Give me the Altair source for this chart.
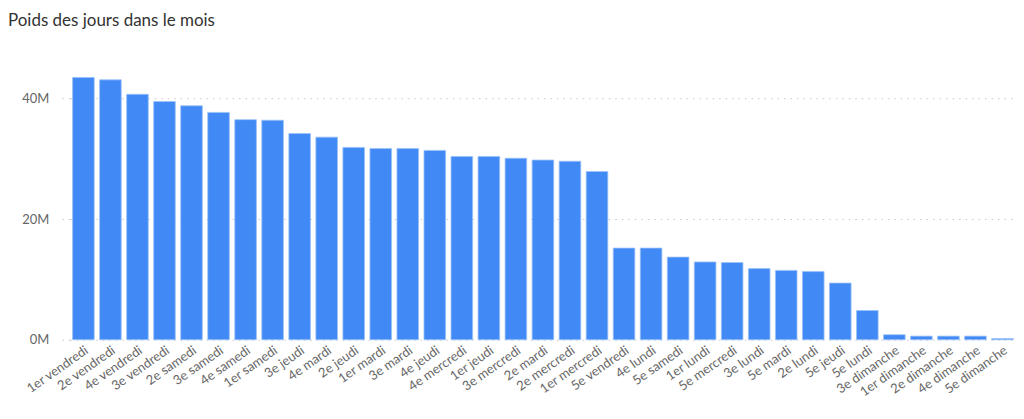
import altair as alt
import pandas as pd

jours = ["1er vendredi", "2e vendredi", "4e vendredi", "3e vendredi", "2e samedi",
         "3e samedi", "4e samedi", "1er samedi", "3e jeudi", "4e mardi",
         "2e jeudi", "1er mardi", "3e mardi", "4e jeudi", "4e mercredi",
         "1er jeudi", "3e mercredi", "2e mardi", "2e mercredi", "1er mercredi",
         "5e vendredi", "4e lundi", "5e samedi", "1er lundi", "5e mercredi",
         "3e lundi", "5e mardi", "2e lundi", "5e jeudi", "5e lundi",
         "3e dimanche", "1er dimanche", "2e dimanche", "4e dimanche", "5e dimanche"]
valeurs_m = [43.5, 43.1, 40.7, 39.5, 38.8,
             37.7, 36.5, 36.4, 34.2, 33.6,
             31.9, 31.7, 31.7, 31.4, 30.4,
             30.4, 30.1, 29.8, 29.6, 27.9,
             15.2, 15.2, 13.7, 12.9, 12.8,
             11.8, 11.5, 11.3, 9.4, 4.85,
             0.83, 0.6, 0.6, 0.6, 0.2]

df = pd.DataFrame({"jour": jours, "valeur": [v * 1e6 for v in valeurs_m]})

FONT = "Lato"

chart = alt.Chart(df).mark_bar(
    color="#4189F5", stroke="#9cc2f8", strokeWidth=0.8
).encode(
    x=alt.X("jour:N", sort=jours, title=None,
            scale=alt.Scale(paddingInner=0.2, paddingOuter=0.1),
            axis=alt.Axis(labelAngle=-35, labelAlign="right", labelBaseline="top",
                          domain=False, ticks=False, labelPadding=4,
                          labelFontSize=13, labelColor="#666666", labelFont=FONT,
                          labelOverlap=False)),
    y=alt.Y("valeur:Q", title=None,
            scale=alt.Scale(domain=[0, 48e6], nice=False),
            axis=alt.Axis(values=[0, 20e6, 40e6],
                          labelExpr="(datum.value/1e6) + 'M'",
                          domain=False, ticks=True, tickSize=9,
                          tickColor="#c8c8c8", tickDash=[1.5, 5],
                          labelPadding=12, labelFontSize=13, labelColor="#666666",
                          labelFont=FONT,
                          grid=True, gridColor="#c8c8c8", gridDash=[1.5, 5],
                          gridWidth=1)),
    tooltip=["jour", "valeur"]
).properties(
    width=948, height=290,
    title=alt.TitleParams("Poids des jours dans le mois", anchor="start",
                          frame="group", dx=-62, offset=20,
                          fontSize=17, font=FONT, fontWeight="normal",
                          color="#333333"),
    autosize=alt.AutoSizeParams(type="none"),
    padding={"left": 62, "top": 42, "right": 0, "bottom": 60}
).configure_view(stroke=None)

chart.save("out.html", embed_options={"renderer": "svg", "actions": False})
